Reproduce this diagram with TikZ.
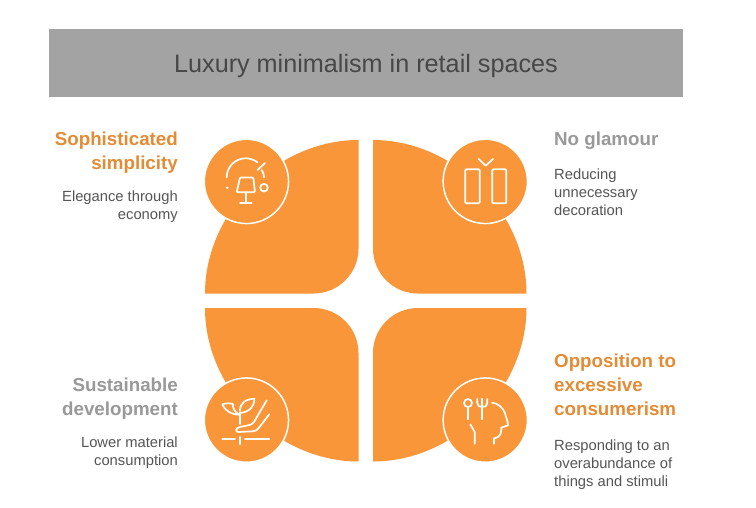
\documentclass[tikz,border=0pt]{standalone}
\usepackage{fontspec}
\setmainfont{Liberation Sans}
\definecolor{bandgray}{HTML}{A3A3A3}
\definecolor{titleink}{HTML}{474747}
\definecolor{petalorange}{HTML}{FA963A}
\definecolor{headorange}{HTML}{E38B35}
\definecolor{headgray}{HTML}{999999}
\definecolor{bodyink}{HTML}{555555}
\tikzstyle{petal} = [fill=petalorange]
\tikzstyle{disc} = [circle, fill=petalorange, draw=white, line width=1.5pt, minimum size=84.3pt, inner sep=0pt]
\tikzstyle{glyph} = [draw=white, line width=1.7pt, line cap=round, line join=round]
\tikzstyle{head} = [inner sep=0pt, font=\fontsize{18.75}{24}\selectfont\bfseries]
\tikzstyle{body} = [inner sep=0pt, text=bodyink, font=\fontsize{14.75}{18}\selectfont]

\begin{document}
\begin{tikzpicture}[x=1pt, y=-1pt]
	\useasboundingbox (0,0) rectangle (756,507);
	\fill[white] (0,0) rectangle (756,507);
	\node[fill=bandgray, minimum width=634pt, minimum height=68pt, inner sep=0pt] (band) at (366,63) {};
	\node[text=titleink, inner sep=0pt, font=\fontsize{25.2}{28}\selectfont] (title) at (366,65.5) {Luxury minimalism in retail spaces};

	\fill[petal] (358.5,140) -- (358.5,248.5) .. controls (358.5,273.4) and (338.4,293.5) .. (313.5,293.5) -- (205,293.5) .. controls (205,212.1) and (277.1,140) .. (358.5,140) -- cycle;
	\fill[petal] (373,140) -- (373,248.5) .. controls (373,273.4) and (393.1,293.5) .. (418,293.5) -- (526.5,293.5) .. controls (526.5,212.1) and (454.4,140) .. (373,140) -- cycle;
	\fill[petal] (358.5,461.5) -- (358.5,353) .. controls (358.5,328.1) and (338.4,308) .. (313.5,308) -- (205,308) .. controls (205,389.4) and (277.1,461.5) .. (358.5,461.5) -- cycle;
	\fill[petal] (373,461.5) -- (373,353) .. controls (373,328.1) and (393.1,308) .. (418,308) -- (526.5,308) .. controls (526.5,389.4) and (454.4,461.5) .. (373,461.5) -- cycle;

	\node[disc] (lamp) at (246.4,181.4) {};
	\node[disc] (pillars) at (485.3,181.4) {};
	\node[disc] (sprout) at (246.4,420.1) {};
	\node[disc] (mind) at (485.3,420.1) {};

	\draw[glyph] (226.7,177.3) arc[start angle=180, end angle=52, radius=19pt];
	\draw[glyph] (257.5,170) -- (265,163);
	\draw[glyph] (261.7,170) .. controls (263.5,172.5) and (264,175) .. (264,177.3);
	\draw[glyph, rounded corners=1pt] (240,177.5) -- (253.3,177.5) -- (255,192.3) -- (236.7,192.3) -- cycle;
	\draw[glyph] (245.7,192.3) -- (245.7,203.3);
	\draw[glyph] (240,203.3) -- (251.7,203.3);
	\draw[glyph] (264,187.7) circle[radius=3.8pt];
	\fill[white] (227.3,187.7) circle[radius=1.4pt];

	\draw[glyph] (478.7,159) -- (485.7,165.7) -- (493,159);
	\draw[glyph, rounded corners=1pt] (465.3,169.3) rectangle (479.7,203.3);
	\draw[glyph, rounded corners=1pt] (492.3,169.3) rectangle (506.3,203.3);

	\draw[glyph] (222.3,438.7) -- (235,438.7);
	\draw[glyph] (245,438.7) -- (269.3,438.7);
	\draw[glyph] (240,437) -- (240,444.3);
	\draw[glyph] (240,424) -- (240,412);
	\draw[glyph] (240,414.7) .. controls (236,414) and (232,408) .. (233,404) .. controls (229,403) and (226,403) .. (222.3,404.3) .. controls (226,412) and (232,414.7) .. (240,414.7);
	\draw[glyph] (240,410.3) .. controls (240,403) and (246,399) .. (254.3,398.7) .. controls (254.5,407) and (249,412) .. (240,413);
	\draw[glyph] (266.7,400.3) -- (254,422) .. controls (252,424.7) and (250,425) .. (248,425.3) -- (240,427) .. controls (235,428) and (235,432.3) .. (239,432) -- (253,431.3) .. controls (256,431) and (257,430) .. (258.7,428) -- (269.3,414.3);

	\draw[glyph] (468,403) circle[radius=4pt];
	\draw[glyph] (468,407) -- (468,419.3);
	\draw[glyph] (482.3,398.7) -- (482.3,419.3);
	\draw[glyph] (477.3,399) -- (477.3,403) .. controls (477.3,406) and (479.5,407) .. (482.3,407) .. controls (485,407) and (487.3,406) .. (487.3,403) -- (487.3,399);
	\draw[glyph] (492,402.7) .. controls (498,403) and (503,408) .. (505,413) .. controls (506,418) and (508,421) .. (508,425.3) -- (501.3,427.7) -- (501.3,430) .. controls (501.3,436) and (497,438) .. (494,438.3) -- (494,443.7);
	\draw[glyph] (470.3,424.3) -- (474.7,432) -- (474.7,443.7);

	\node[head, text=headorange, anchor=north east, align=right] (simple) at (178,132) {Sophisticated\\simplicity};
	\node[body, anchor=north east, align=right] (simpletext) at (178,191) {Elegance through\\economy};
	\node[head, text=headgray, anchor=north west, align=left] (glamour) at (554,132) {No glamour};
	\node[body, anchor=north west, align=left] (glamourtext) at (554,169) {Reducing\\unnecessary\\decoration};
	\node[head, text=headgray, anchor=north east, align=right] (green) at (178,378) {Sustainable\\development};
	\node[body, anchor=north east, align=right] (greentext) at (178,437) {Lower material\\consumption};
	\node[head, text=headorange, anchor=north west, align=left] (oppose) at (554,354) {Opposition to\\excessive\\consumerism};
	\node[body, anchor=north west, align=left] (opposetext) at (554,440) {Responding to an\\overabundance of\\things and stimuli};
\end{tikzpicture}
\end{document}
